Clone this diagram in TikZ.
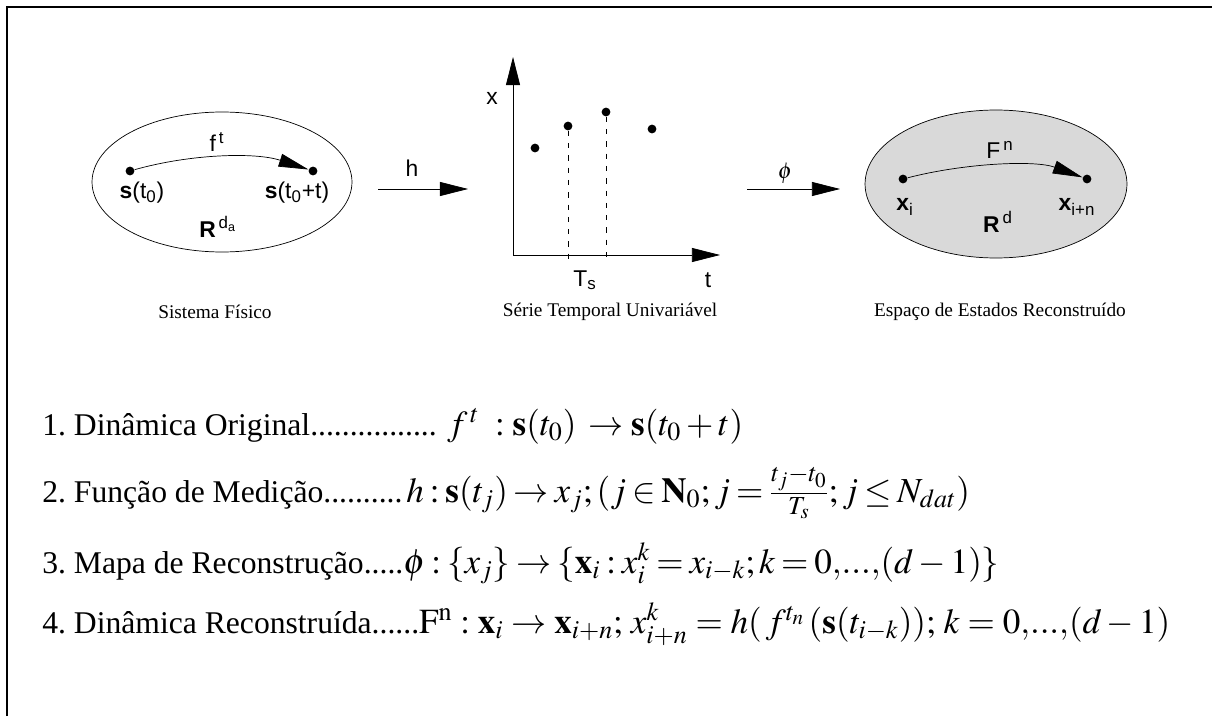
\documentclass[tikz,border=0pt]{standalone}
\usepackage{mathptmx}
\usepackage[no-math]{fontspec}
\setmainfont{Liberation Serif}
\newfontfamily\arialfont{Liberation Sans}
\usetikzlibrary{arrows.meta,shapes.geometric}
\newcommand{\eqmath}[1]{{\fontsize{20}{24}\selectfont$#1$}}
\newcommand{\eqtight}[1]{{\fontsize{20}{24}\selectfont$\thickmuskip=3mu #1$}}

\begin{document}
\begin{tikzpicture}[x=0.02cm, y=-0.02cm,
    lbl/.style={font=\arialfont\fontsize{13}{15}\selectfont, inner sep=0pt},
    caption/.style={font=\fontsize{11}{13}\selectfont, inner sep=0pt},
    eq/.style={anchor=base west, font=\fontsize{18}{21}\selectfont, inner sep=0pt},
    dot/.style={circle, fill, inner sep=0pt, minimum size=5pt},
    space/.style={ellipse, draw, thin, minimum width=5.2cm, minimum height=2.8cm},
    big arrow/.style={-{Triangle[length=16pt, width=8pt]}},
    map arrow/.style={-{Triangle[length=17pt, width=7.5pt]}}
]
    \useasboundingbox (0,0) rectangle (1212,716);
    \draw[line width=1.7pt] (7,716) -- (7,7) -- (1212,7);

    % sistema fisico
    \node[space] (sys) at (222,182) {};
    \node[dot] (s0) at (130,171) {};
    \node[dot] (s1) at (313,171) {};
    \draw[map arrow] (s0) .. controls (190,154) and (255,152) .. (s1);
    \node[lbl] (ft) at (217,142) {f\textsuperscript{\,t}};
    \node[lbl] (s0lbl) at (142,193) {\textbf{s}(t\textsubscript{0})};
    \node[lbl] (s1lbl) at (297,193) {\textbf{s}(t\textsubscript{0}+t)};
    \node[lbl] (rda) at (218,227) {\textbf{R}\textsuperscript{\,d\textsubscript{a}}};
    \node[caption] (capsys) at (215,312) {Sistema Físico};

    % h
    \coordinate (h0) at (378,189);
    \coordinate (h1) at (468,189);
    \draw[big arrow] (h0) -- (h1);
    \node[lbl] (hlbl) at (412,168) {h};

    % serie temporal
    \coordinate (o) at (513,255);
    \coordinate (ytop) at (513,57);
    \coordinate (xend) at (720,255);
    \draw[big arrow] (o) -- (ytop);
    \draw[big arrow] (o) -- (xend);
    \node[dot] (p1) at (535,148) {};
    \node[dot] (p2) at (568,126) {};
    \node[dot] (p3) at (606,112) {};
    \node[dot] (p4) at (652,129) {};
    \coordinate (p2b) at (568,260);
    \coordinate (p3b) at (606,260);
    \draw[dash pattern=on 3pt off 4pt] (p2) -- (p2b);
    \draw[dash pattern=on 3pt off 4pt] (p3) -- (p3b);
    \node[lbl] (xlbl) at (492,98) {x};
    \node[lbl] (tlbl) at (708,280) {t};
    \node[lbl] (tslbl) at (585,280) {T\textsubscript{s}};
    \node[caption] (capser) at (610,312) {Série Temporal Univariável};

    % phi
    \coordinate (f0) at (747,189);
    \coordinate (f1) at (840,189);
    \draw[big arrow] (f0) -- (f1);
    \node[lbl] (philbl) at (785,173) {$\phi$};

    % espaco reconstruido
    \node[space, fill=gray!30, minimum height=2.96cm, minimum width=5.24cm] (rec) at (996,184) {};
    \node[dot] (xi) at (903,179) {};
    \node[dot] (xin) at (1087,179) {};
    \draw[map arrow] (xi) .. controls (965,163) and (1035,160) .. (xin);
    \node[lbl] (Fn) at (1000,150) {F\textsuperscript{\,n}};
    \node[lbl] (xilbl) at (905,207) {\textbf{x}\textsubscript{i}};
    \node[lbl] (xinlbl) at (1077,207) {\textbf{x}\textsubscript{i+n}};
    \node[lbl] (rd) at (998,222) {\textbf{R}\textsuperscript{\,d}};
    \node[caption] (caprec) at (1000,312) {Espaço de Estados Reconstruído};

    % equacoes
    \node[eq] (eq1) at (42,435) {1.~Dinâmica Original................ \eqmath{f^{\,t}\;:\mathbf{s}(t_0)\,\rightarrow\mathbf{s}(t_0+t)}};
    \node[eq] (eq2) at (42,502) {2.~Função de Medição..........\eqtight{\,h:\mathbf{s}(t_j)\rightarrow x_j;(j\in\mathbf{N}_0;j=\frac{t_j-t_0}{T_s};j\le N_{dat})}};
    \node[eq] (eq3) at (42,573) {3.~Mapa de Reconstrução.....\eqtight{\phi:\{x_j\}\rightarrow\{\mathbf{x}_i:x_i^k=x_{i-k};k=0{,}...{,}(d-1)\}}};
    \node[eq] (eq4) at (42,633) {4.~Dinâmica Reconstruída......\eqmath{\mathrm{F}^{\mathrm{n}}:\mathbf{x}_i\rightarrow\mathbf{x}_{i+n};\,x_{i+n}^k=h(\,f^{t_n}\,(\mathbf{s}(t_{i-k}));\,k=0{,}...{,}(d-1)}};
\end{tikzpicture}
\end{document}
